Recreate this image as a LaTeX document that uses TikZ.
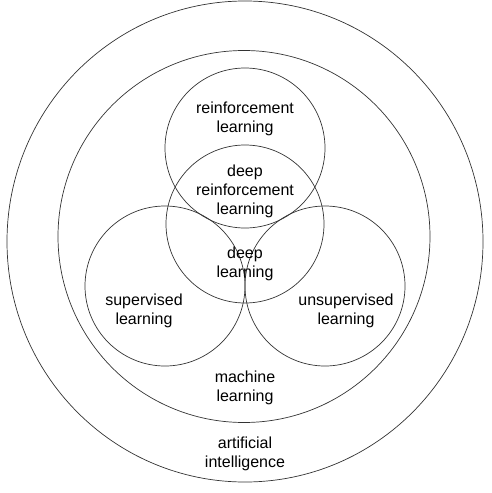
\documentclass[tikz,border=0pt]{standalone}
\usepackage{fontspec}
\setmainfont{Liberation Sans}
\tikzset{set/.style={draw=black!80, line width=0.7pt}}
\tikzset{lbl/.style={align=center, inner sep=0pt, font=\fontsize{16}{19}\selectfont}}

\begin{document}
\begin{tikzpicture}[x=1pt,y=-1pt]
\useasboundingbox (0,0) rectangle (491,493);
\draw[set] (245,241.5) ellipse [x radius=238, y radius=240.5];
\draw[set] (244,236.5) circle [radius=186];
\draw[set] (245,148) circle [radius=80];
\draw[set] (245,224) circle [radius=79];
\draw[set] (165,286) circle [radius=80];
\draw[set] (325,286) circle [radius=80];
\node[lbl] (rl) at (245,119) {reinforcement\\learning};
\node[lbl] (drl) at (245,191) {deep\\reinforcement\\learning};
\node[lbl] (dl) at (245,264) {deep\\learning};
\node[lbl] (sl) at (144,311) {supervised\\learning};
\node[lbl] (ul) at (346,311) {unsupervised\\learning};
\node[lbl] (ml) at (245,388) {machine\\learning};
\node[lbl] (ai) at (245,454) {artificial\\intelligence};
\end{tikzpicture}
\end{document}
